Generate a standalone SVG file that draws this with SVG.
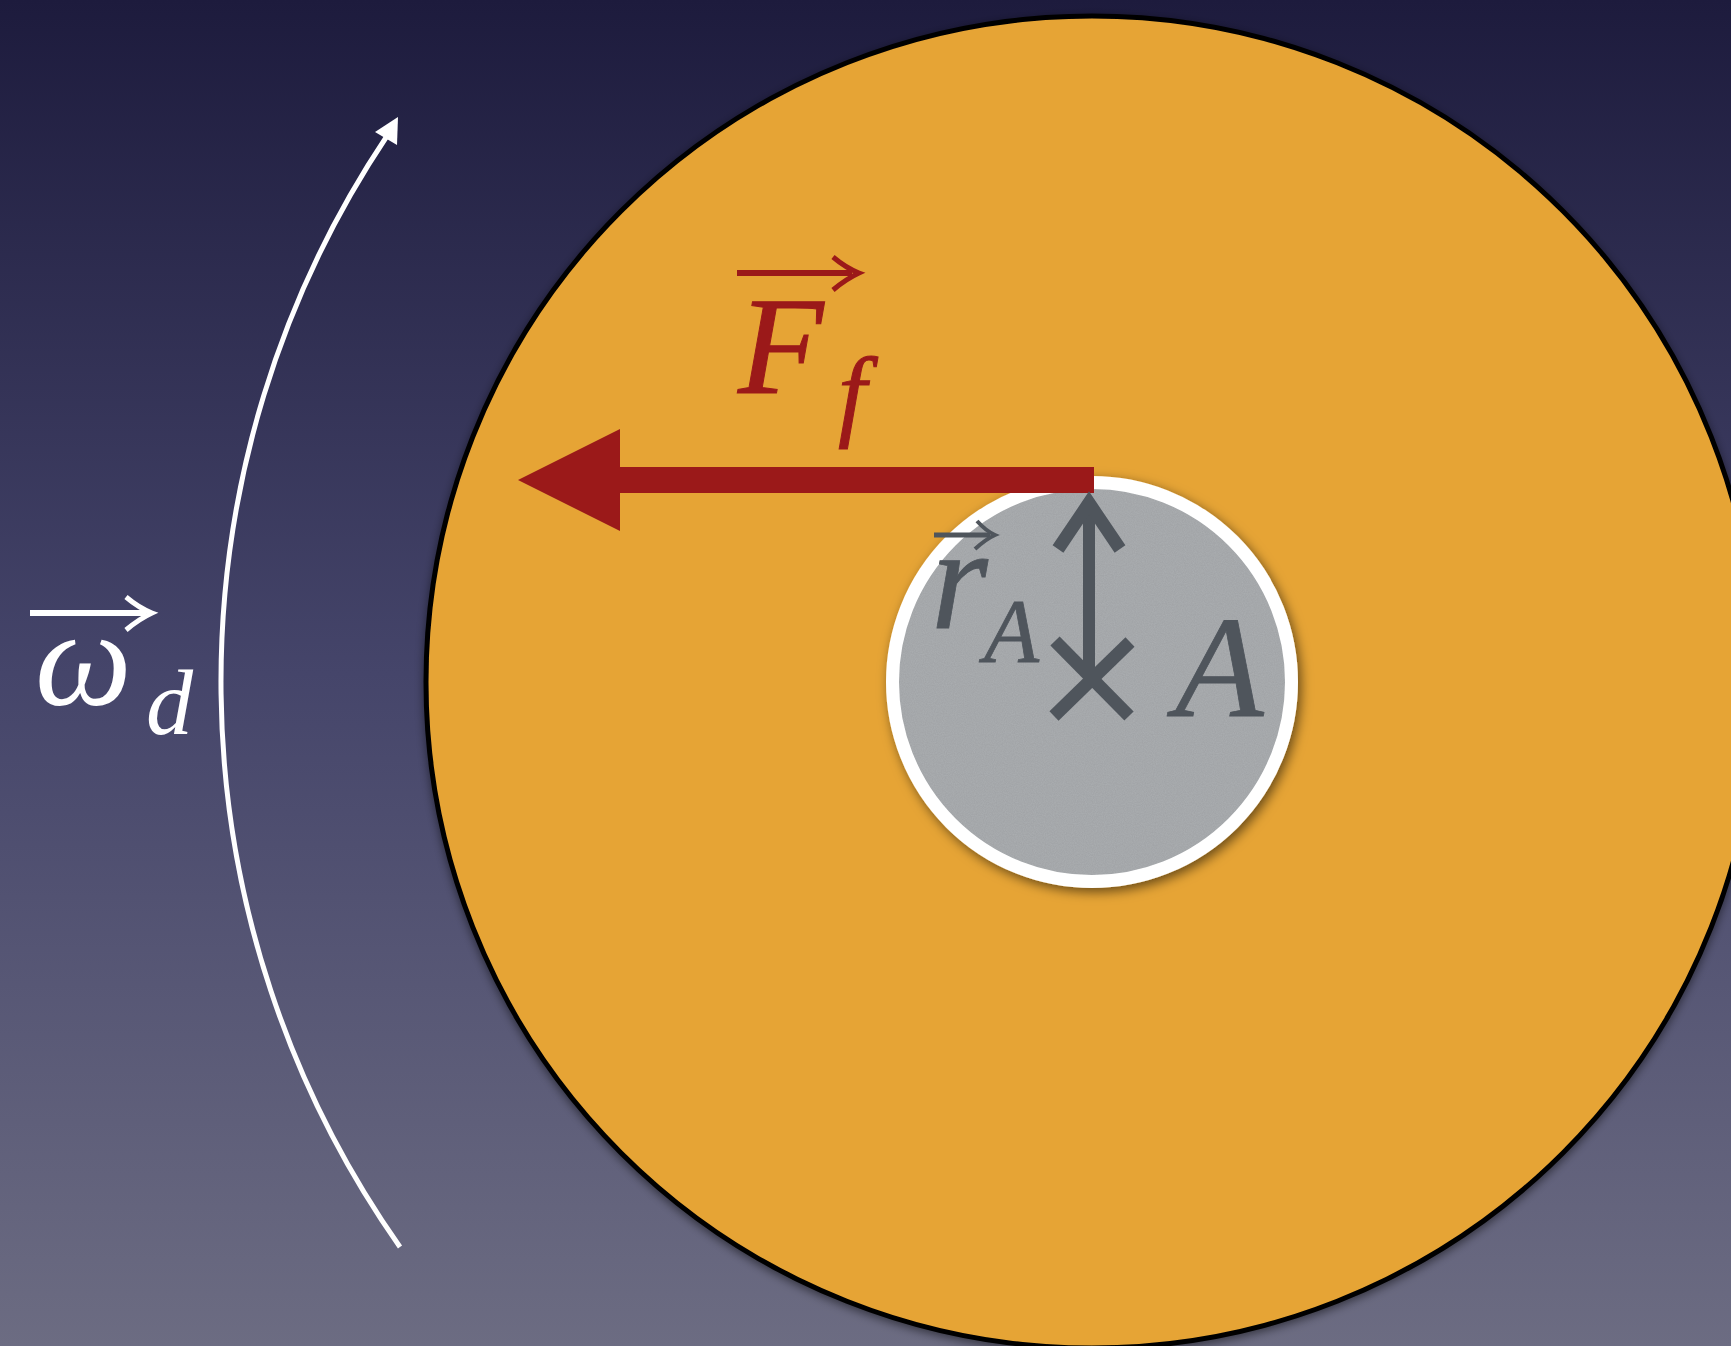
<svg xmlns="http://www.w3.org/2000/svg" width="1731" height="1346" viewBox="0 0 1731 1346">
<defs>
<linearGradient id="bg" x1="0" y1="0" x2="0" y2="1">
<stop offset="0" stop-color="#1d1b3d"/>
<stop offset="0.5" stop-color="#45456a"/>
<stop offset="1" stop-color="#6c6c82"/>
</linearGradient>
<filter id="shadow" x="-20%" y="-20%" width="140%" height="140%">
<feDropShadow dx="3" dy="4" stdDeviation="6" flood-color="#000" flood-opacity="0.55"/>
</filter>
<filter id="shadowBig" x="-10%" y="-10%" width="120%" height="120%">
<feDropShadow dx="0" dy="3" stdDeviation="5" flood-color="#000" flood-opacity="0.5"/>
</filter>
<filter id="grain" x="0" y="0" width="100%" height="100%">
<feTurbulence type="fractalNoise" baseFrequency="0.9" numOctaves="2" seed="3" result="n"/>
<feColorMatrix in="n" type="matrix" values="0 0 0 0 0  0 0 0 0 0  0 0 0 0 0  0 0 0 0.07 0" result="a"/>
<feComposite in="a" in2="SourceGraphic" operator="in"/>
</filter>
</defs>
<style>
.lbl{font-family:"Liberation Serif","Times New Roman",serif;font-style:italic}
.white{fill:#ffffff}
.red{fill:#9b1919;stroke:#9b1919;stroke-width:1}
.gray{fill:#4f555c;stroke:#4f555c;stroke-width:0.8}
</style>
<rect x="0" y="0" width="1731" height="1346" fill="url(#bg)"/>

<g id="disk">
<circle cx="1092" cy="682" r="666" fill="#e6a434" stroke="#000" stroke-width="5" filter="url(#shadowBig)"/>
</g>

<g id="hub">
<circle cx="1092" cy="682" r="199.5" fill="#abaeb1" stroke="#ffffff" stroke-width="13" filter="url(#shadow)"/>
<circle cx="1092" cy="682" r="193" fill="#abaeb1" filter="url(#grain)"/>
</g>

<g id="connectors">
<path d="M 400 1247 A 981 981 0 0 1 387 136" fill="none" stroke="#ffffff" stroke-width="5"/>
<polygon points="398,117 375,132 397,145" fill="#ffffff"/>
<rect x="618" y="467" width="476" height="26" fill="#9b1919"/>
<polygon points="518,480 620,429 620,531" fill="#9b1919"/>
<line x1="1089" y1="672" x2="1089" y2="504" stroke="#4f555c" stroke-width="12"/>
<polyline points="1058,549 1089,503 1120,549" fill="none" stroke="#4f555c" stroke-width="13" stroke-linejoin="miter"/>
</g>

<g id="point-A">
<line x1="1055" y1="641" x2="1129" y2="716" stroke="#4f555c" stroke-width="13"/>
<line x1="1130" y1="642" x2="1054" y2="716" stroke="#4f555c" stroke-width="13"/>
<text class="lbl gray" x="1175" y="716" font-size="145">A</text>
</g>

<g id="label-rA">
<line x1="934" y1="535" x2="990" y2="535" stroke="#4f555c" stroke-width="5"/>
<path d="M 977 521 Q 986 531 995 535 Q 986 539 975 549" fill="none" stroke="#4f555c" stroke-width="4"/>
<text class="lbl gray" x="931" y="628" font-size="146">r</text>
<text class="lbl gray" x="984" y="662" font-size="90">A</text>
</g>

<g id="label-Ff">
<line x1="737" y1="273" x2="852" y2="273" stroke="#9b1919" stroke-width="6"/>
<path d="M 833 257 Q 846 268 859 273 Q 846 279 833 290" fill="none" stroke="#9b1919" stroke-width="5"/>
<text class="lbl red" x="738" y="393" font-size="140">F</text>
<text class="lbl red" x="838" y="427" font-size="102">f</text>
</g>

<g id="label-omega">
<line x1="30" y1="613" x2="146" y2="613" stroke="#ffffff" stroke-width="6"/>
<path d="M 126 597 Q 139 608 152 613 Q 139 619 126 630" fill="none" stroke="#ffffff" stroke-width="5"/>
<text class="lbl white" x="35" y="705" font-size="137">ω</text>
<text class="lbl white" x="146" y="734" font-size="94">d</text>
</g>
</svg>
